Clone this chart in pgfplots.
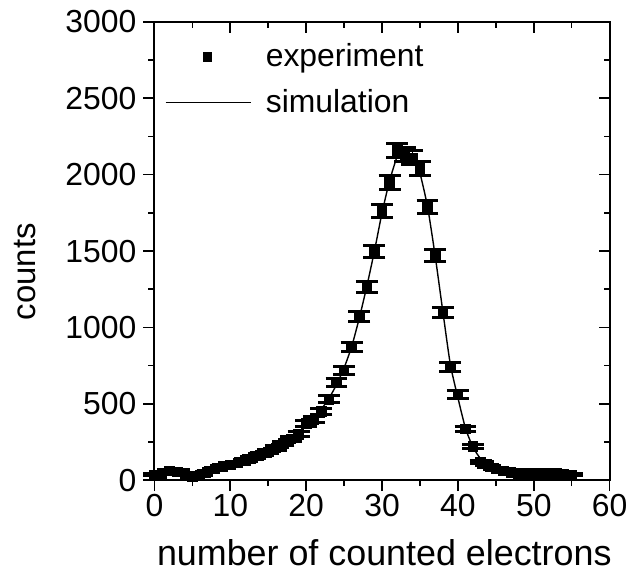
\documentclass[border=0pt]{standalone}
\usepackage{fontspec}
\setmainfont{Liberation Sans}
\usepackage{pgfplots}
\pgfplotsset{compat=1.18}
\usepackage{pgfplotstable}

\pgfplotstableread{
x y e
0 35 5.9
1 45 6.7
2 60 7.7
3 55 7.4
4 45 6.7
5 25 5.0
6 32 5.7
7 55 7.4
8 75 8.7
9 90 9.5
10 100 10.0
11 112 10.6
12 130 11.4
13 150 12.2
14 165 12.8
15 185 13.6
16 210 14.5
17 240 15.5
18 270 16.4
19 300 17.3
20 370 19.2
21 395 19.9
22 450 21.2
23 530 23.0
24 640 25.3
25 720 26.8
26 870 29.5
27 1070 32.7
28 1265 35.6
29 1495 38.7
30 1760 42.0
31 1950 44.2
32 2160 46.5
33 2130 46.2
34 2110 45.9
35 2040 45.2
36 1790 42.3
37 1470 38.3
38 1100 33.2
39 740 27.2
40 560 23.7
41 335 18.3
42 220 14.8
43 120 11.0
44 95 9.7
45 75 8.7
46 60 7.7
47 50 7.1
48 45 6.7
49 45 6.7
50 45 6.7
51 45 6.7
52 45 6.7
53 45 6.7
54 40 6.3
55 35 5.9
}\expdata

\pgfplotstableread{
x y
0 40
1 42
2 45
3 42
4 36
5 32
6 38
7 52
8 68
9 84
10 98
11 112
12 128
13 146
14 166
15 188
16 212
17 240
18 274
19 314
20 360
21 408
22 465
23 535
24 625
25 735
26 875
27 1060
28 1270
29 1500
30 1750
31 1960
32 2120
32.5 2150
33 2155
33.5 2140
34 2105
34.5 2070
35 2010
36 1790
37 1470
38 1110
39 760
40 540
41 340
42 215
43 140
44 100
45 78
46 64
47 55
48 50
50 46
52 44
55 40
}\simdata

\begin{document}
\begin{tikzpicture}
\path (-77.5pt,-51pt) rectangle (239.5pt,241pt);
\begin{axis}[
  at={(0,0)}, anchor=south west,
  width=228.5pt, height=230pt, scale only axis,
  xmin=0, xmax=60, ymin=0, ymax=3000,
  xtick={0,10,...,60}, ytick={0,500,...,3000},
  minor x tick num=1, minor y tick num=1,
  tick align=outside, xtick pos=left, ytick pos=left,
  major tick length=5.5pt, minor tick length=3pt,
  every tick/.style={black, line width=0.8pt},
  axis line style={line width=1pt},
  tick label style={font=\fontsize{16}{18}\selectfont},
  xticklabel style={yshift=2pt},
  /pgf/number format/assume math mode=true,
  /pgf/number format/1000 sep={},
  xlabel={number of counted electrons},
  ylabel={counts},
  xlabel style={font=\fontsize{18}{20}\selectfont, at={(axis description cs:0.505,-0.159)}, anchor=center},
  ylabel style={font=\fontsize{16.5}{18}\selectfont, at={(axis description cs:-0.284,0.455)}, anchor=center},
  clip=false,
  legend style={draw=none, fill=none, at={(0.022,0.962)}, anchor=north west,
    font=\fontsize{16}{18}\selectfont, inner sep=0pt, row sep=6pt,
    /tikz/every odd column/.append style={column sep=5pt}},
  legend cell align=left,
]
\addlegendimage{legend image code/.code={\draw[black, mark=square*, mark size=2.2pt] plot coordinates {(21pt,0pt)};}}
\addlegendentry{experiment}
\addlegendimage{legend image code/.code={\draw[black, line width=0.7pt] (0pt,0pt) -- (43pt,0pt);}}
\addlegendentry{simulation}

\addplot[forget plot, black, only marks, mark=square*, mark size=2.4pt,
  error bars/.cd, y dir=both, y explicit,
  error bar style={line width=0.7pt},
  error mark options={rotate=90, mark size=5.5pt, line width=1.5pt}]
  table[x=x, y=y, y error=e] {\expdata};
\addplot[forget plot, black, line width=0.7pt, smooth, tension=0.4] table[x=x, y=y] {\simdata};
\end{axis}
\begin{axis}[
  at={(0,0)}, anchor=south west,
  width=228.5pt, height=230pt, scale only axis,
  xmin=0, xmax=60, ymin=0, ymax=3000,
  xtick={0,10,...,60}, ytick={0,500,...,3000},
  minor x tick num=1, minor y tick num=1,
  tick align=inside, xtick pos=right, ytick pos=right,
  major tick length=5.5pt, minor tick length=3pt,
  every tick/.style={black, line width=0.8pt},
  axis line style={line width=1pt},
  xticklabels={}, yticklabels={},
]
\end{axis}
\end{tikzpicture}
\end{document}
